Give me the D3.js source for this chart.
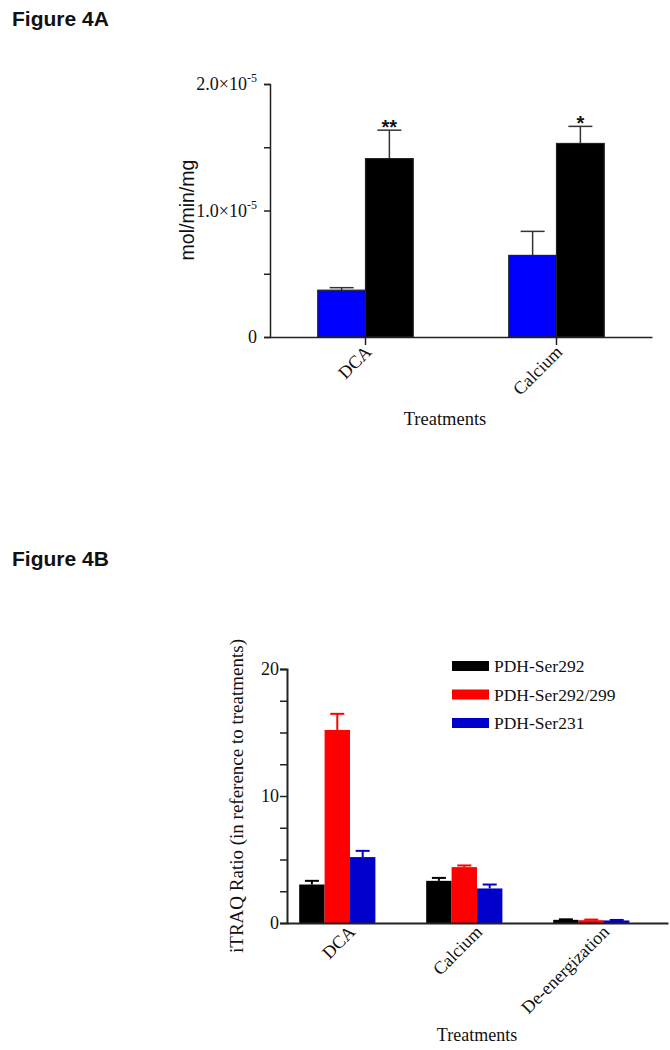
<!DOCTYPE html>
<html>
<head>
<meta charset="utf-8">
<script src="https://cdn.jsdelivr.net/npm/d3@7"></script>
<style>
  html, body { margin: 0; padding: 0; background: #fff; }
  svg { display: block; }
</style>
</head>
<body>
<svg id="chart" width="670" height="1050"></svg>
<script>
// ---------- Panel A data ----------
const catsA = ["DCA", "Calcium"];
const seriesA = ["Control", "Treated"];
const meansA = [[3.7e-6, 1.41e-5], [6.45e-6, 1.53e-5]];
const errsA = [[0.2e-6, 0.225e-5], [1.9e-6, 0.135e-5]];
const starsA = [["", "**"], ["", "*"]];
const colorsA = ["#0000ff", "#000000"];
const ticksA = [0, 0.5e-5, 1.0e-5, 1.5e-5, 2.0e-5];
const majorTicksA = [0, 1.0e-5, 2.0e-5];

// ---------- Panel B data ----------
const catsB = ["DCA", "Calcium", "De-energization"];
const seriesB = ["PDH-Ser292", "PDH-Ser292/299", "PDH-Ser231"];
const meansB = [[3.03, 15.2, 5.19], [3.32, 4.40, 2.72], [0.25, 0.22, 0.2]];
const errsB = [[0.29, 1.27, 0.49], [0.23, 0.13, 0.31], [0.04, 0.05, 0.04]];
const colorsB = ["#000000", "#ff0000", "#0000cc"];
const ticksB = [0, 2.5, 5, 7.5, 10, 12.5, 15, 17.5, 20];
const majorTicksB = [0, 10, 20];

const svg = d3.select("#chart");
const SERIF = "'Liberation Serif', 'Times New Roman', serif";
const SANS = "'Liberation Sans', Arial, sans-serif";

// Figure titles
svg.append("text").attr("x", 12).attr("y", 26).attr("font-family", SANS)
  .attr("font-weight", "bold").attr("font-size", 21).attr("fill", "#111").text("Figure 4A");
svg.append("text").attr("x", 12).attr("y", 566).attr("font-family", SANS)
  .attr("font-weight", "bold").attr("font-size", 21).attr("fill", "#111").text("Figure 4B");

// =============== Panel A ===============
(function () {
  const yA = d3.scaleLinear().domain([0, 2e-5]).range([337, 84]);
  const xA = d3.scaleBand().domain(catsA).range([270, 652]).paddingInner(0.5).paddingOuter(0.25);
  const xA2 = d3.scaleBand().domain(seriesA).range([0, xA.bandwidth()]);
  const g = svg.append("g");

  // bars
  catsA.forEach((c, i) => {
    seriesA.forEach((s, j) => {
      const x0 = xA(c) + xA2(s);
      const w = xA2.bandwidth();
      const top = yA(meansA[i][j] + errsA[i][j]);
      const cx = x0 + w / 2;
      // error bar
      g.append("line").attr("x1", cx).attr("x2", cx)
        .attr("y1", yA(meansA[i][j])).attr("y2", top)
        .attr("stroke", "#333").attr("stroke-width", 1.5);
      g.append("line").attr("x1", cx - 12).attr("x2", cx + 12)
        .attr("y1", top).attr("y2", top)
        .attr("stroke", "#333").attr("stroke-width", 1.5);
      g.append("rect").attr("x", x0).attr("width", w)
        .attr("y", yA(meansA[i][j])).attr("height", yA(0) - yA(meansA[i][j]))
        .attr("fill", colorsA[j]).attr("stroke", "#222").attr("stroke-width", 1.2);
      if (starsA[i][j]) {
        g.append("text").attr("x", cx).attr("y", top + 4)
          .attr("text-anchor", "middle").attr("font-family", SANS)
          .attr("font-weight", "bold").attr("font-size", 20).attr("fill", "#111")
          .text(starsA[i][j]);
      }
    });
  });

  // y axis
  const ya = g.append("g").attr("transform", "translate(270,0)")
    .call(d3.axisLeft(yA).tickValues(ticksA).tickSize(6).tickFormat(""));
  ya.select(".domain").attr("stroke", "#222").attr("stroke-width", 1.5);
  ya.selectAll(".tick line").attr("stroke", "#222").attr("stroke-width", 1.5);
  majorTicksA.forEach(v => {
    const t = g.append("text").attr("x", 257).attr("y", yA(v) + 6)
      .attr("text-anchor", "end").attr("font-family", SERIF).attr("font-size", 18).attr("fill", "#111");
    if (v === 0) { t.text("0"); }
    else {
      const exp = Math.floor(Math.log10(v));
      const mant = (v / Math.pow(10, exp)).toFixed(1);
      t.append("tspan").text(mant + "×10");
      t.append("tspan").attr("font-size", 12).attr("dy", -8).text(String(exp).replace("-", "-"));
    }
  });

  // x axis
  const xa = g.append("g").attr("transform", "translate(0,337)")
    .call(d3.axisBottom(xA).tickSize(8).tickSizeOuter(0).tickFormat(""));
  xa.select(".domain").attr("stroke", "#222").attr("stroke-width", 1.5);
  xa.selectAll(".tick line").attr("stroke", "#222").attr("stroke-width", 1.5)
    .attr("transform", d => "translate(" + (-xA.bandwidth() / 2 + xA2.bandwidth()) + ",0)");
  catsA.forEach(c => {
    const px = xA(c) + xA2.bandwidth() + 7, py = 337 + 16;
    g.append("text").attr("transform", `translate(${px},${py}) rotate(-45)`)
      .attr("text-anchor", "end").attr("font-family", SERIF).attr("font-size", 18)
      .attr("fill", "#111").text(c);
  });

  // axis titles
  g.append("text").attr("x", 445).attr("y", 425).attr("text-anchor", "middle")
    .attr("font-family", SERIF).attr("font-size", 18.5).attr("fill", "#111").text("Treatments");
  g.append("text").attr("transform", "translate(194,210) rotate(-90)")
    .attr("text-anchor", "middle").attr("font-family", SANS).attr("font-size", 19.5)
    .attr("fill", "#111").text("mol/min/mg");
})();

// =============== Panel B ===============
(function () {
  const yB = d3.scaleLinear().domain([0, 20]).range([923, 669]);
  const xB = d3.scaleBand().domain(catsB).range([287, 668])
    .paddingInner(0.4).paddingOuter(0.2).align(0.24);
  const xB2 = d3.scaleBand().domain(seriesB).range([0, xB.bandwidth()]);
  const g = svg.append("g");

  catsB.forEach((c, i) => {
    seriesB.forEach((s, j) => {
      const x0 = xB(c) + xB2(s);
      const w = xB2.bandwidth();
      const cx = x0 + w / 2;
      const top = yB(meansB[i][j] + errsB[i][j]);
      g.append("line").attr("x1", cx).attr("x2", cx)
        .attr("y1", yB(meansB[i][j])).attr("y2", top)
        .attr("stroke", colorsB[j]).attr("stroke-width", 2);
      g.append("line").attr("x1", cx - 7).attr("x2", cx + 7)
        .attr("y1", top).attr("y2", top)
        .attr("stroke", colorsB[j]).attr("stroke-width", 2);
      g.append("rect").attr("x", x0).attr("width", w)
        .attr("y", yB(meansB[i][j])).attr("height", yB(0) - yB(meansB[i][j]))
        .attr("fill", colorsB[j]);
    });
  });

  // y axis
  const ya = g.append("g").attr("transform", "translate(287,0)")
    .call(d3.axisLeft(yB).tickValues(ticksB).tickSize(7).tickFormat(""));
  ya.select(".domain").attr("stroke", "#222").attr("stroke-width", 2);
  ya.selectAll(".tick line").attr("stroke", "#222").attr("stroke-width", 1.5);
  majorTicksB.forEach(v => {
    g.append("text").attr("x", 279).attr("y", yB(v) + 6).attr("text-anchor", "end")
      .attr("font-family", SERIF).attr("font-size", 18).attr("fill", "#111").text(String(v));
  });

  // x axis
  const xa = g.append("g").attr("transform", "translate(0,923)")
    .call(d3.axisBottom(xB).tickSize(0).tickFormat(""));
  xa.select(".domain").attr("stroke", "#222").attr("stroke-width", 2);
  catsB.forEach(c => {
    const px = xB(c) + xB.bandwidth() / 2 + 19, py = 923 + 10;
    g.append("text").attr("transform", `translate(${px},${py}) rotate(-45)`)
      .attr("text-anchor", "end").attr("font-family", SERIF).attr("font-size", 18)
      .attr("fill", "#111").text(c);
  });

  // legend
  seriesB.forEach((s, j) => {
    const yy = 666 + j * 28.5;
    g.append("rect").attr("x", 452).attr("y", yy - 5).attr("width", 37).attr("height", 10)
      .attr("fill", colorsB[j]);
    g.append("text").attr("x", 494).attr("y", yy + 6).attr("font-family", SERIF)
      .attr("font-size", 17.5).attr("fill", "#111").text(s);
  });

  // titles
  g.append("text").attr("x", 477).attr("y", 1041).attr("text-anchor", "middle")
    .attr("font-family", SERIF).attr("font-size", 18).attr("fill", "#111").text("Treatments");
  g.append("text").attr("transform", "translate(243,796) rotate(-90)")
    .attr("text-anchor", "middle").attr("font-family", SERIF).attr("font-size", 19)
    .attr("fill", "#111").text("iTRAQ Ratio (in reference to treatments)");
})();
</script>
</body>
</html>
